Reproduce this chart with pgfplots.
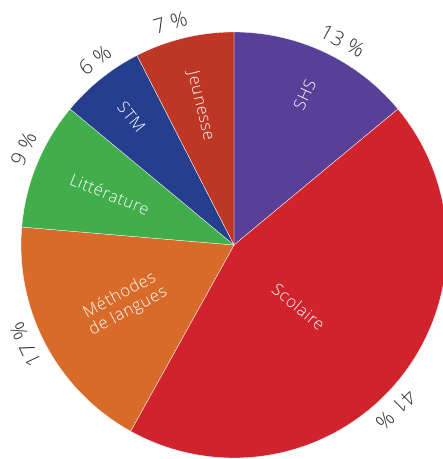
\documentclass[border=0pt]{standalone}
\usepackage{pgfplots}
\pgfplotsset{compat=1.18}
\usepackage{fontspec}
\setmainfont{Open Sans}[UprightFont={* Light}, LetterSpace=4]

\definecolor{cSHS}{HTML}{5A3F99}
\definecolor{cSco}{HTML}{D0232B}
\definecolor{cMet}{HTML}{D86B2A}
\definecolor{cLit}{HTML}{41AE4B}
\definecolor{cSTM}{HTML}{253F8E}
\definecolor{cJeu}{HTML}{BE3624}
\definecolor{txt}{HTML}{2E2E2E}

% parts, clockwise from the top
\def\vSHS{13}
\def\vSco{41}
\def\vMet{17}
\def\vLit{9}
\def\vSTM{6}
\def\vJeu{7}
\pgfmathsetmacro\tot{\vSHS+\vSco+\vMet+\vLit+\vSTM+\vJeu}
\pgfmathsetmacro\aA{90}
\pgfmathsetmacro\aB{\aA-\vSHS*360/\tot}
\pgfmathsetmacro\aC{\aB-\vSco*360/\tot}
\pgfmathsetmacro\aD{\aC-\vMet*360/\tot}
\pgfmathsetmacro\aE{\aD-\vLit*360/\tot}
\pgfmathsetmacro\aF{\aE-\vSTM*360/\tot}
\pgfmathsetmacro\aG{\aF-\vJeu*360/\tot}
\pgfmathsetmacro\mA{(\aA+\aB)/2}
\pgfmathsetmacro\mB{(\aB+\aC)/2}
\pgfmathsetmacro\mC{(\aC+\aD)/2}
\pgfmathsetmacro\mD{(\aD+\aE)/2}
\pgfmathsetmacro\mE{(\aE+\aF)/2}
\pgfmathsetmacro\mF{(\aF+\aG)/2}

\tikzset{
    pct/.style={font=\fontsize{20.5}{20}\selectfont, text=txt},
    lab/.style={font=\fontsize{16.5}{18}\selectfont, text=white, align=center},
}
% percentage label at angle #1
\newcommand\pctlabel[2]{\node[pct, rotate=#1-90] at (axis cs:{1.085*cos(#1)},{1.085*sin(#1)}) {#2};}

\begin{document}
\begin{tikzpicture}
\begin{axis}[
    width=443pt, height=459pt,
    scale only axis,
    hide axis,
    xmin=-1.0986, xmax=0.9812,
    ymin=-1.0047, ymax=1.1502,
    slice/.style={draw=white, line width=0.3pt, samples=90},
]
\addplot[slice, fill=cSHS, domain=\aB:\aA] ({cos(x)},{sin(x)}) -- (axis cs:0,0) -- cycle;
\addplot[slice, fill=cSco, domain=\aC:\aB] ({cos(x)},{sin(x)}) -- (axis cs:0,0) -- cycle;
\addplot[slice, fill=cMet, domain=\aD:\aC] ({cos(x)},{sin(x)}) -- (axis cs:0,0) -- cycle;
\addplot[slice, fill=cLit, domain=\aE:\aD] ({cos(x)},{sin(x)}) -- (axis cs:0,0) -- cycle;
\addplot[slice, fill=cSTM, domain=\aF:\aE] ({cos(x)},{sin(x)}) -- (axis cs:0,0) -- cycle;
\addplot[slice, fill=cJeu, domain=\aG:\aF] ({cos(x)},{sin(x)}) -- (axis cs:0,0) -- cycle;

% labels inside
\node[lab, rotate=\mA] at (axis cs:{0.78*cos(\mA)},{0.78*sin(\mA)}) {SHS};
\node[lab, rotate=\mB] at (axis cs:{0.42*cos(\mB-4)},{0.42*sin(\mB-4)}) {Scolaire};
\node[lab, rotate=\mC+180] at (axis cs:{0.585*cos(\mC)},{0.585*sin(\mC)}) {Méthodes\\de langues};
\node[lab, rotate=\mD+180] at (axis cs:{0.63*cos(\mD)},{0.63*sin(\mD)}) {Littérature};
\node[lab, rotate=\mE+180] at (axis cs:{0.77*cos(\mE)},{0.77*sin(\mE)}) {STM};
\node[lab, rotate=\mF+180] at (axis cs:{0.67*cos(\mF)},{0.67*sin(\mF)}) {Jeunesse};

% percentages outside
\pctlabel{62}{13 \%}
\pctlabel{-45.5}{41 \%}
\pctlabel{205.5}{17 \%}
\pctlabel{155.5}{9 \%}
\pctlabel{127}{6 \%}
\pctlabel{106}{7 \%}
\end{axis}
\pgfresetboundingbox
\path[use as bounding box] (current axis.south west) rectangle (current axis.north east);
\end{tikzpicture}
\end{document}
